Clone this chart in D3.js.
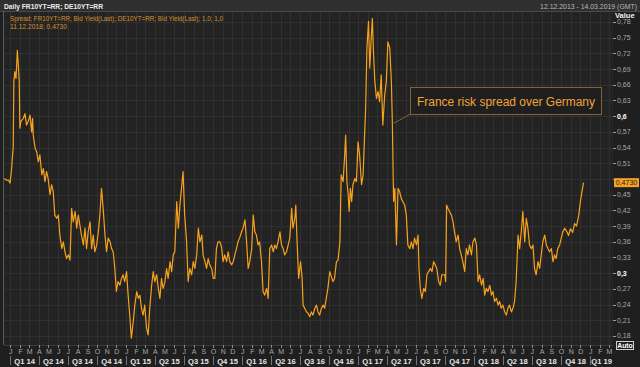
<!DOCTYPE html>
<html><head><meta charset="utf-8">
<script src="https://cdn.jsdelivr.net/npm/d3@7"></script>
<style>
html,body{margin:0;padding:0;background:#1f1f1f;}
svg{display:block;font-family:"Liberation Sans",Arial,sans-serif;}
</style></head><body>
<svg id="chart" width="640" height="367"></svg>
<script>
const dates = [
"2013-12-13","2013-12-19","2013-12-26","2013-12-31","2014-01-05","2014-01-08","2014-01-10","2014-01-12","2014-01-15","2014-01-19",
"2014-01-23","2014-01-26","2014-01-29","2014-01-31","2014-02-03","2014-02-11","2014-02-16","2014-02-21","2014-02-26","2014-03-04",
"2014-03-09","2014-03-12","2014-03-14","2014-03-20","2014-03-25","2014-03-30","2014-04-04","2014-04-10","2014-04-15","2014-04-20",
"2014-04-25","2014-04-30","2014-05-06","2014-05-11","2014-05-16","2014-05-21","2014-05-27","2014-06-01","2014-06-06","2014-06-12",
"2014-06-17","2014-06-22","2014-06-27","2014-07-03","2014-07-08","2014-07-13","2014-07-18","2014-07-24","2014-07-29","2014-08-03",
"2014-08-08","2014-08-13","2014-08-19","2014-08-24","2014-08-29","2014-09-03","2014-09-09","2014-09-14","2014-09-19","2014-09-24",
"2014-09-30","2014-10-05","2014-10-10","2014-10-15","2014-10-21","2014-10-26","2014-10-31","2014-11-05","2014-11-11","2014-11-16",
"2014-11-21","2014-11-26","2014-12-01","2014-12-06","2014-12-12","2014-12-17","2014-12-22","2014-12-27","2015-01-02","2015-01-07",
"2015-01-12","2015-01-17","2015-01-23","2015-01-28","2015-02-03","2015-02-08","2015-02-13","2015-02-18","2015-02-23","2015-02-28",
"2015-03-06","2015-03-11","2015-03-16","2015-03-22","2015-03-27","2015-04-01","2015-04-07","2015-04-12","2015-04-17","2015-04-22",
"2015-04-27","2015-05-03","2015-05-08","2015-05-13","2015-05-19","2015-05-24","2015-05-29","2015-06-03","2015-06-09","2015-06-14",
"2015-06-19","2015-06-24","2015-06-29","2015-07-04","2015-07-10","2015-07-15","2015-07-20","2015-07-26","2015-07-31","2015-08-05",
"2015-08-11","2015-08-16","2015-08-21","2015-08-27","2015-08-31","2015-09-06","2015-09-11","2015-09-16","2015-09-21","2015-09-27",
"2015-10-02","2015-10-07","2015-10-12","2015-10-17","2015-10-23","2015-10-28","2015-11-02","2015-11-07","2015-11-13","2015-11-18",
"2015-11-23","2015-11-29","2015-12-04","2015-12-09","2015-12-14","2015-12-19","2015-12-24","2015-12-30","2016-01-04","2016-01-10",
"2016-01-15","2016-01-20","2016-01-25","2016-01-31","2016-02-05","2016-02-10","2016-02-15","2016-02-20","2016-02-25","2016-03-02",
"2016-03-07","2016-03-12","2016-03-18","2016-03-23","2016-03-28","2016-04-03","2016-04-08","2016-04-13","2016-04-18","2016-04-23",
"2016-04-29","2016-05-04","2016-05-09","2016-05-14","2016-05-20","2016-05-25","2016-05-30","2016-06-05","2016-06-09","2016-06-15",
"2016-06-18","2016-06-22","2016-06-27","2016-07-03","2016-07-08","2016-07-11","2016-07-16","2016-07-22","2016-07-27","2016-08-01",
"2016-08-06","2016-08-11","2016-08-17","2016-08-22","2016-08-27","2016-09-01","2016-09-07","2016-09-12","2016-09-17","2016-09-22",
"2016-09-27","2016-10-03","2016-10-13","2016-10-18","2016-10-24","2016-10-29","2016-11-04","2016-11-08","2016-11-14","2016-11-19",
"2016-11-22","2016-11-26","2016-11-30","2016-12-03","2016-12-07","2016-12-11","2016-12-15","2016-12-21","2016-12-26","2016-12-31",
"2017-01-05","2017-01-11","2017-01-16","2017-01-21","2017-01-24","2017-01-28","2017-02-02","2017-02-06","2017-02-10","2017-02-14",
"2017-02-18","2017-02-22","2017-02-27","2017-03-04","2017-03-09","2017-03-14","2017-03-19","2017-03-25","2017-03-30","2017-04-04",
"2017-04-10","2017-04-15","2017-04-18","2017-04-22","2017-04-26","2017-05-01","2017-05-06","2017-05-11","2017-05-16","2017-05-21",
"2017-05-27","2017-06-01","2017-06-06","2017-06-12","2017-06-17","2017-06-22","2017-06-27","2017-07-03","2017-07-08","2017-07-11",
"2017-07-15","2017-07-20","2017-07-26","2017-07-31","2017-08-05","2017-08-10","2017-08-16","2017-08-21","2017-08-26","2017-08-31",
"2017-09-05","2017-09-11","2017-09-16","2017-09-21","2017-09-27","2017-09-30","2017-10-03","2017-10-06","2017-10-10","2017-10-15",
"2017-10-21","2017-10-26","2017-10-31","2017-11-05","2017-11-11","2017-11-16","2017-11-21","2017-11-26","2017-12-02","2017-12-07",
"2017-12-12","2017-12-17","2017-12-23","2017-12-28","2018-01-03","2018-01-08","2018-01-13","2018-01-18","2018-01-24","2018-01-29",
"2018-02-03","2018-02-08","2018-02-13","2018-02-19","2018-02-24","2018-03-01","2018-03-06","2018-03-12","2018-03-17","2018-03-22",
"2018-03-27","2018-04-01","2018-04-07","2018-04-12","2018-04-17","2018-04-22","2018-04-28","2018-05-03","2018-05-08","2018-05-13",
"2018-05-19","2018-05-24","2018-05-29","2018-06-03","2018-06-09","2018-06-14","2018-06-19","2018-06-24","2018-06-30","2018-07-05",
"2018-07-10","2018-07-15","2018-07-21","2018-07-26","2018-07-31","2018-08-05","2018-08-11","2018-08-16","2018-08-21","2018-08-26",
"2018-09-01","2018-09-06","2018-09-11","2018-09-16","2018-09-21","2018-09-27","2018-10-02","2018-10-07","2018-10-13","2018-10-19",
"2018-10-25","2018-10-31","2018-11-07","2018-11-13","2018-11-19","2018-11-26","2018-12-02","2018-12-11"
];
const spread = [
0.481,0.478,0.478,0.472,0.500,0.526,0.539,0.666,0.685,0.672,
0.726,0.698,0.666,0.577,0.590,0.596,0.605,0.583,0.590,0.602,
0.570,0.596,0.564,0.539,0.532,0.513,0.526,0.488,0.500,0.475,
0.494,0.481,0.450,0.469,0.456,0.411,0.405,0.411,0.373,0.347,
0.360,0.341,0.328,0.335,0.325,0.424,0.398,0.418,0.386,0.411,
0.392,0.373,0.354,0.386,0.347,0.379,0.398,0.347,0.373,0.341,
0.354,0.379,0.411,0.462,0.418,0.373,0.341,0.367,0.360,0.347,
0.340,0.309,0.265,0.284,0.277,0.290,0.297,0.284,0.303,0.258,
0.220,0.176,0.207,0.239,0.265,0.252,0.258,0.233,0.220,0.239,
0.195,0.182,0.233,0.277,0.303,0.284,0.297,0.271,0.252,0.290,
0.271,0.284,0.309,0.290,0.322,0.303,0.335,0.341,0.437,0.386,
0.430,0.462,0.494,0.411,0.360,0.284,0.309,0.297,0.322,0.309,
0.335,0.386,0.360,0.373,0.335,0.322,0.309,0.328,0.316,0.309,
0.290,0.290,0.347,0.360,0.360,0.350,0.322,0.335,0.322,0.341,
0.322,0.316,0.322,0.335,0.347,0.360,0.367,0.379,0.386,0.402,
0.360,0.309,0.322,0.347,0.411,0.379,0.373,0.354,0.360,0.322,
0.265,0.258,0.271,0.252,0.347,0.354,0.341,0.354,0.347,0.360,
0.379,0.354,0.347,0.335,0.341,0.354,0.367,0.424,0.386,0.405,
0.430,0.360,0.290,0.322,0.290,0.239,0.233,0.226,0.223,0.217,
0.226,0.220,0.233,0.239,0.226,0.220,0.233,0.239,0.233,0.252,
0.271,0.303,0.284,0.290,0.322,0.325,0.360,0.488,0.475,0.526,
0.564,0.475,0.450,0.418,0.462,0.437,0.469,0.481,0.475,0.551,
0.526,0.469,0.488,0.570,0.615,0.730,0.781,0.692,0.742,0.787,
0.717,0.666,0.634,0.647,0.628,0.679,0.583,0.640,0.666,0.742,
0.730,0.666,0.590,0.437,0.462,0.354,0.462,0.456,0.443,0.437,
0.430,0.411,0.354,0.347,0.360,0.347,0.367,0.354,0.373,0.309,
0.271,0.252,0.271,0.265,0.297,0.303,0.309,0.303,0.322,0.316,
0.309,0.284,0.277,0.297,0.297,0.297,0.284,0.430,0.424,0.418,
0.411,0.398,0.379,0.360,0.373,0.347,0.335,0.322,0.303,0.347,
0.335,0.354,0.335,0.360,0.367,0.354,0.284,0.297,0.277,0.290,
0.258,0.271,0.265,0.277,0.258,0.265,0.246,0.252,0.239,0.246,
0.233,0.239,0.226,0.220,0.233,0.239,0.226,0.233,0.246,0.284,
0.373,0.347,0.379,0.418,0.360,0.405,0.386,0.354,0.347,0.354,
0.309,0.297,0.322,0.309,0.335,0.360,0.373,0.354,0.347,0.341,
0.347,0.322,0.335,0.328,0.347,0.354,0.367,0.379,0.386,0.380,
0.372,0.385,0.378,0.395,0.390,0.410,0.440,0.473
];
const yTicks = [0.18,0.21,0.24,0.27,0.30,0.33,0.36,0.39,0.42,0.45,0.48,0.51,0.54,0.57,0.60,0.63,0.66,0.69,0.72,0.75,0.78];
const boldTicks = [0.30,0.60];
const monthLetters = ["J","F","M","A","M","J","J","A","S","O","N","D"];
const headerLeft = "Daily FR10YT=RR; DE10YT=RR";
const headerRight = "12.12.2013 - 14.03.2019 (GMT)";
const legendLine1 = "Spread; FR10YT=RR; Bid Yield(Last); DE10YT=RR; Bid Yield(Last);  1,0; 1,0";
const legendLine2 = "11.12.2018; 0,4730";
const lastValueLabel = "0,4730";
const annotationText = "France risk spread over Germany";
const annotationAnchor = ["2017-04-18", 0.585];

const parse = d3.utcParse("%Y-%m-%d");
const data = dates.map((d,i)=>({date:parse(d), v:spread[i]}));

const W=640,H=367;
const plot = {l:4, r:613, t:12, b:345};
const svg = d3.select("#chart");

const x = d3.scaleUtc().domain([parse("2013-12-12"), parse("2019-03-14")]).range([plot.l, plot.r]);
const y = d3.scaleLinear().domain([0.1628, 0.7991]).range([plot.b, plot.t]);
const last = data[data.length-1];

// backgrounds
svg.append("rect").attr("width",W).attr("height",H).attr("fill","#1f1f1f");
svg.append("rect").attr("x",0).attr("y",0).attr("width",W).attr("height",11).attr("fill","#2f2f2f");
svg.append("line").attr("x1",0).attr("x2",W).attr("y1",11.5).attr("y2",11.5).attr("stroke","#4a4a4a");
svg.append("rect").attr("x",plot.l).attr("y",plot.t).attr("width",plot.r-plot.l).attr("height",plot.b-plot.t).attr("fill","#232323");

// grid
const months = d3.utcMonth.range(parse("2014-01-01"), parse("2019-03-02"));
svg.append("g").selectAll("line").data(months).join("line")
  .attr("x1",d=>Math.round(x(d))+0.5).attr("x2",d=>Math.round(x(d))+0.5)
  .attr("y1",plot.t).attr("y2",plot.b).attr("stroke","#303030");
svg.append("g").selectAll("line").data(yTicks).join("line")
  .attr("x1",plot.l).attr("x2",plot.r)
  .attr("y1",d=>Math.round(y(d))+0.5).attr("y2",d=>Math.round(y(d))+0.5).attr("stroke","#303030");

// frame
svg.append("line").attr("x1",3.5).attr("x2",3.5).attr("y1",11).attr("y2",plot.b).attr("stroke","#5a5a5a");
svg.append("line").attr("x1",3.5).attr("x2",plot.r).attr("y1",plot.b+0.5).attr("y2",plot.b+0.5).attr("stroke","#3a3a3a");

// header & legend
svg.append("text").attr("x",4).attr("y",8.8).attr("fill","#eeeeee").attr("font-size",7.2).attr("font-weight","bold")
  .attr("textLength",99).attr("lengthAdjust","spacingAndGlyphs").text(headerLeft);
svg.append("text").attr("x",637).attr("y",8.8).attr("text-anchor","end").attr("fill","#b8b8b8").attr("font-size",6.9)
  .text(headerRight);
svg.append("text").attr("x",10).attr("y",21).attr("fill","#d8912c").attr("font-size",7.4)
  .attr("textLength",213).attr("lengthAdjust","spacingAndGlyphs").text(legendLine1);
svg.append("text").attr("x",10).attr("y",29).attr("fill","#d8912c").attr("font-size",7.4)
  .attr("textLength",57).attr("lengthAdjust","spacingAndGlyphs").text(legendLine2);
svg.append("text").attr("x",615).attr("y",18).attr("fill","#f0f0f0").attr("font-size",7.5).attr("font-weight","bold").text("Value");

// y axis (labels hidden behind the last-value box are not drawn)
const shownTicks = yTicks.filter(t=>Math.abs(y(t)-y(last.v))>7);
const ya = svg.append("g");
ya.selectAll("line").data(yTicks).join("line")
  .attr("x1",613).attr("x2",616).attr("y1",d=>Math.round(y(d))+0.5).attr("y2",d=>Math.round(y(d))+0.5).attr("stroke","#9a9a9a");
ya.selectAll("text").data(shownTicks).join("text")
  .attr("x",617).attr("y",d=>y(d)+2.5)
  .attr("font-size",7)
  .attr("fill",d=>boldTicks.includes(d)?"#ffffff":"#a8a8a8")
  .attr("font-weight",d=>boldTicks.includes(d)?"bold":"normal")
  .text(d=>d3.format(".2~f")(d).replace(".",","));

// x axis: month ticks and letters
const xa = svg.append("g");
xa.selectAll("line").data(months).join("line")
  .attr("x1",d=>Math.round(x(d))+0.5).attr("x2",d=>Math.round(x(d))+0.5)
  .attr("y1",plot.b).attr("y2",plot.b+3).attr("stroke","#888");
xa.selectAll("text").data(months).join("text")
  .attr("x",d=>x(d)+0.5).attr("y",353.5).attr("text-anchor","middle")
  .attr("font-size",7).attr("fill","#a8a8a8")
  .text(d=>monthLetters[d.getUTCMonth()]);

// quarters
const quarters = d3.utcMonth.every(3).range(parse("2014-01-01"), parse("2019-01-02"));
const qa = svg.append("g");
qa.selectAll("line").data(quarters).join("line")
  .attr("x1",d=>Math.round(x(d))+0.5).attr("x2",d=>Math.round(x(d))+0.5)
  .attr("y1",356).attr("y2",365).attr("stroke","#777");
qa.selectAll("text").data(quarters).join("text")
  .attr("x",d=>{const e=d3.utcMonth.offset(d,3);return (x(d)+Math.min(x(e),plot.r))/2;})
  .attr("y",363.5).attr("text-anchor","middle").attr("font-size",7.6).attr("font-weight","bold").attr("fill","#e4e4e4")
  .text(d=>"Q"+(Math.floor(d.getUTCMonth()/3)+1)+" "+String(d.getUTCFullYear()).slice(2));

// line
svg.append("defs").append("clipPath").attr("id","clip").append("rect")
  .attr("x",plot.l).attr("y",plot.t).attr("width",plot.r-plot.l).attr("height",plot.b-plot.t);
svg.append("path").datum(data).attr("clip-path","url(#clip)")
  .attr("fill","none").attr("stroke","#f7a21b").attr("stroke-width",1.2).attr("stroke-linejoin","round")
  .attr("d",d3.line().x(d=>x(d.date)).y(d=>y(d.v)));

// last value box
svg.append("rect").attr("x",614).attr("y",y(last.v)-4.5).attr("width",25).attr("height",9).attr("fill","#f2a22a");
svg.append("text").attr("x",626.5).attr("y",y(last.v)+2.6).attr("text-anchor","middle").attr("font-size",7).attr("fill","#2a1a00").text(lastValueLabel);

// Auto box
svg.append("rect").attr("x",616.5).attr("y",341.5).attr("width",17).attr("height",8).attr("fill","none").attr("stroke","#cfcfcf");
svg.append("text").attr("x",625).attr("y",348).attr("text-anchor","middle").attr("font-size",6.8).attr("font-weight","bold").attr("fill","#ffffff").text("Auto");

// annotation
const ax = x(parse(annotationAnchor[0])), ay = y(annotationAnchor[1]);
svg.append("line").attr("x1",ax).attr("y1",ay).attr("x2",410.5).attr("y2",114).attr("stroke","#7d6533").attr("stroke-width",1);
svg.append("rect").attr("x",410.5).attr("y",87.5).attr("width",191).attr("height",27).attr("fill","#1f1f1f").attr("stroke","#7d6533");
svg.append("text").attr("x",417).attr("y",106).attr("fill","#f2a43a").attr("font-size",12)
  .attr("textLength",178).attr("lengthAdjust","spacingAndGlyphs").text(annotationText);
</script>
</body></html>
